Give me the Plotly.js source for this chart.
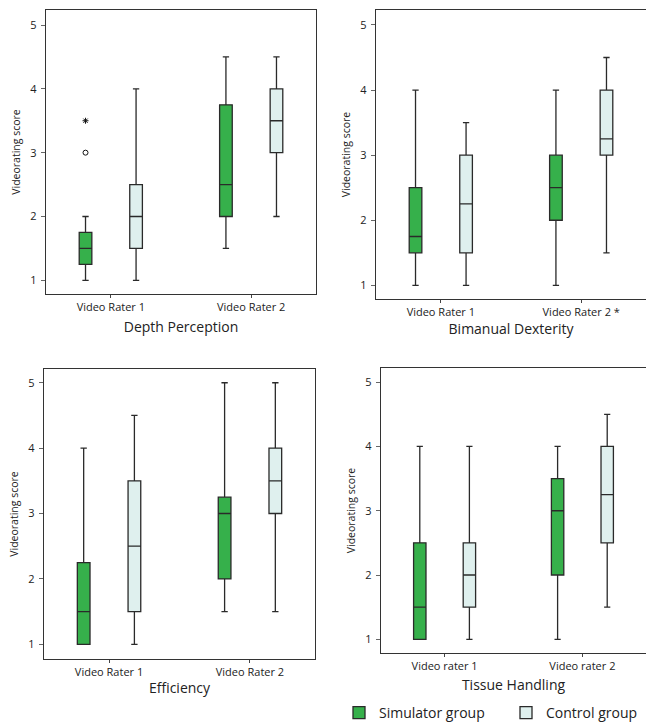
<!DOCTYPE html>
<html>
<head>
<meta charset="utf-8">
<script src="https://cdn.plot.ly/plotly-3.0.1.min.js"></script>
<style>html,body{margin:0;padding:0;background:#fff;}#chart{width:646px;height:722px;}</style>
</head>
<body>
<div id="chart"></div>
<script>
// ---- data ----
const panelTitles = ['Depth Perception', 'Bimanual Dexterity', 'Efficiency', 'Tissue Handling'];
const raterLabels = [
  ['Video Rater 1', 'Video Rater 2'],
  ['Video Rater 1', 'Video Rater 2 *'],
  ['Video Rater 1', 'Video Rater 2'],
  ['Video rater 1', 'Video rater 2']
];
const groupNames = ['Simulator group', 'Control group'];

// Simulator group: [rater1, rater2] per panel
const simLower  = [[1, 1.5], [1, 1], [1, 1.5], [1, 1]];
const simQ1     = [[1.25, 2], [1.5, 2], [1, 2], [1, 2]];
const simMedian = [[1.5, 2.5], [1.75, 2.5], [1.5, 3], [1.5, 3]];
const simQ3     = [[1.75, 3.75], [2.5, 3], [2.25, 3.25], [2.5, 3.5]];
const simUpper  = [[2, 4.5], [4, 4], [4, 5], [4, 4]];

// Control group
const ctlLower  = [[1, 2], [1, 1.5], [1, 1.5], [1, 1.5]];
const ctlQ1     = [[1.5, 3], [1.5, 3], [1.5, 3], [1.5, 2.5]];
const ctlMedian = [[2, 3.5], [2.25, 3.25], [2.5, 3.5], [2, 3.25]];
const ctlQ3     = [[2.5, 4], [3, 4], [3.5, 4], [2.5, 4]];
const ctlUpper  = [[4, 4.5], [3.5, 4.5], [4.5, 5], [4, 4.5]];

// Outliers (Depth Perception, simulator group, rater 1)
const outlierPanel = 0;
const outlierRater = 'Video Rater 1';
const outlierValues = [3, 3.5];
const outlierSymbols = ['circle-open', 'asterisk-open'];

// ---- styling ----
const simFill = '#36b04b';
const ctlFill = '#dff0ee';
const lineCol = '#2a2a2a';
const font = '"Open Sans", "Noto Sans", sans-serif';

const W = 646, H = 722;
const frames = [ // left, right, top, bottom in px
  [46, 316, 10, 294],
  [376, 646, 10, 299],
  [44, 315, 369, 659],
  [381, 646, 368, 653]
];
const yRanges = [[0.786, 5.235], [0.79, 5.23], [0.775, 5.21], [0.787, 5.22]];
const titleStandoff = [8, 5, 4, 7];

const legendStyle = (xpx) => ({
  orientation: 'h', x: xpx / W, xanchor: 'left', y: 1 - 713 / H, yanchor: 'middle',
  font: {size: 14, family: font, color: '#222'}, borderwidth: 0, bgcolor: 'rgba(0,0,0,0)'
});

const traces = [];
const layout = {
  width: W, height: H,
  margin: {l: 0, r: 0, t: 0, b: 0, autoexpand: false},
  paper_bgcolor: '#fff', plot_bgcolor: '#fff',
  font: {family: font, color: '#222', size: 11},
  boxmode: 'group', boxgap: 0.28, boxgroupgap: 0.75,
  scattermode: 'group', scattergap: 0.28,
  showlegend: true,
  legend: legendStyle(339),
  legend2: legendStyle(506)
};

panelTitles.forEach((title, i) => {
  const sfx = i === 0 ? '' : String(i + 1);
  const xa = 'x' + sfx, ya = 'y' + sfx;
  const f = frames[i];
  const cats = raterLabels[i];
  traces.push({
    type: 'box', name: groupNames[0], legendgroup: 'sim', legend: 'legend', showlegend: i === 0,
    x: cats, q1: simQ1[i], median: simMedian[i], q3: simQ3[i],
    lowerfence: simLower[i], upperfence: simUpper[i],
    fillcolor: simFill, line: {color: lineCol, width: 1.3}, whiskerwidth: 0.5,
    offsetgroup: 'sim', xaxis: xa, yaxis: ya, hoverinfo: 'skip'
  });
  traces.push({
    type: 'box', name: groupNames[1], legendgroup: 'ctl', legend: 'legend2', showlegend: i === 0,
    x: cats, q1: ctlQ1[i], median: ctlMedian[i], q3: ctlQ3[i],
    lowerfence: ctlLower[i], upperfence: ctlUpper[i],
    fillcolor: ctlFill, line: {color: lineCol, width: 1.3}, whiskerwidth: 0.5,
    offsetgroup: 'ctl', xaxis: xa, yaxis: ya, hoverinfo: 'skip'
  });
  if (i === outlierPanel) {
    traces.push({
      type: 'scatter', mode: 'markers', showlegend: false, orientation: 'v',
      x: outlierValues.map(() => outlierRater), y: outlierValues,
      marker: {symbol: outlierSymbols, size: 5, color: '#111', line: {color: '#111', width: 1}},
      offsetgroup: 'sim', xaxis: xa, yaxis: ya, hoverinfo: 'skip'
    });
    traces.push({
      type: 'scatter', mode: 'markers', showlegend: false, orientation: 'v',
      x: [outlierRater], y: [null],
      offsetgroup: 'ctl', xaxis: xa, yaxis: ya, hoverinfo: 'skip'
    });
  }
  layout['xaxis' + sfx] = {
    domain: [f[0] / W, f[1] / W], anchor: ya, type: 'category', categoryorder: 'array', categoryarray: cats,
    range: [-0.4615, 1.4615], showline: true, mirror: true, linecolor: '#333', linewidth: 1.2,
    ticks: 'outside', ticklen: 3, tickcolor: '#444', tickwidth: 1, showgrid: false, zeroline: false,
    tickfont: {size: 11, color: '#222'},
    title: {text: title, font: {size: 14, color: '#222'}, standoff: titleStandoff[i]}, fixedrange: true
  };
  layout['yaxis' + sfx] = {
    domain: [1 - f[3] / H, 1 - f[2] / H], anchor: xa, range: yRanges[i],
    tickvals: [1, 2, 3, 4, 5], showline: true, mirror: true, linecolor: '#333', linewidth: 1.2,
    ticks: 'outside', ticklen: 4, tickcolor: '#666', tickwidth: 1, showgrid: false, zeroline: false,
    tickfont: {size: 11, color: '#222'}, ticklabelstandoff: 2,
    title: {text: 'Videorating score', font: {size: 10.5, color: '#222'}, standoff: 7}, fixedrange: true
  };
});

Plotly.newPlot('chart', traces, layout, {staticPlot: true, displayModeBar: false});
</script>
</body>
</html>
